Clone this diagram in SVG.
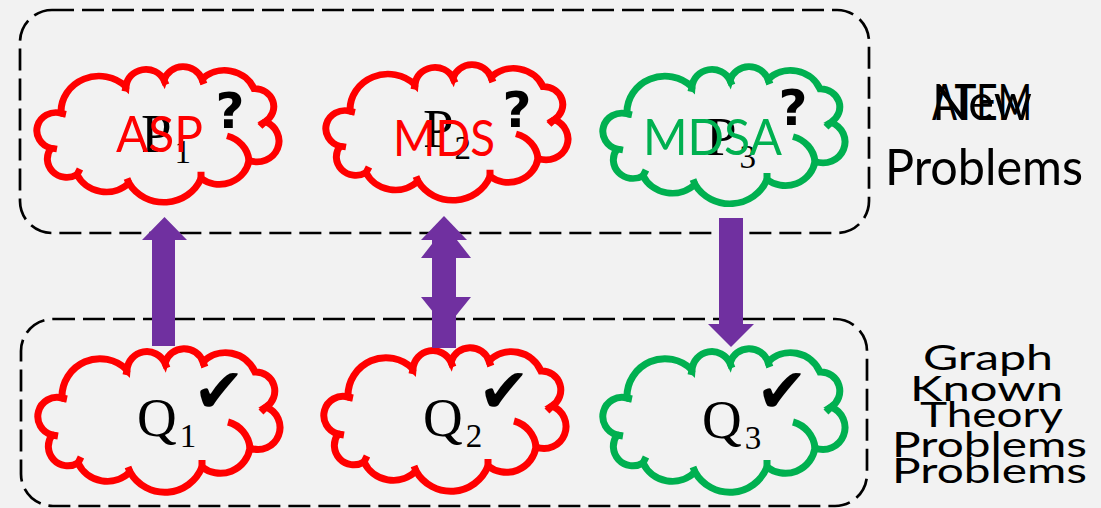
<svg xmlns="http://www.w3.org/2000/svg" xmlns:xlink="http://www.w3.org/1999/xlink" width="1101" height="508" viewBox="0 0 1101 508">
  <style>
    .bg { fill: #F2F2F2; }
    .box { fill: none; stroke: #000; stroke-width: 2.7; stroke-dasharray: 22 8; }
    .red { fill: #F2F2F2; stroke: #FF0000; stroke-width: 7; }
    .green { fill: #F2F2F2; stroke: #00B050; stroke-width: 7; }
    .inner { fill: none; stroke-width: 7; }
    .math { font-family: "Liberation Serif", "Times New Roman", serif; fill: #000; font-size: 55px; }
    .sub { font-size: 33px; }
    .lbl { font-family: Lato, "Open Sans", sans-serif; font-size: 50px; }
    .q { font-family: "DejaVu Sans", sans-serif; font-weight: bold; font-size: 50px; fill: #000; text-anchor: middle; }
    .chk { font-family: "DejaVu Sans", sans-serif; font-size: 62px; fill: #000; text-anchor: middle; }
    .side { font-family: Lato, "Open Sans", sans-serif; fill: #000; }
    .arrow { fill: #7030A0; }
  </style>
  <defs>
    <path id="cloud" d="M24,51 A38,38 0 0 1 89,23 A20,20 0 0 1 127,16 A20,20 0 0 1 165,15 A32,32 0 0 1 217,25 A19,19 0 0 1 228,60 A22,22 0 0 1 212,101 A30,30 0 0 1 164,120 A40,40 0 0 1 92,125 A32.5,32.5 0 0 1 40,116 A19.5,19.5 0 0 1 14,88 A19,19 0 0 1 24,51 Z"/>
    <path id="cloudInner" d="M190,75 A30,30 0 0 1 212,101 M228,60 L223,65 M24,51 L29,52 M89,23 L88,28 M127,16 L129,21 M165,15 L167,20 M164,120 L164,113 M92,125 L90,120 M40,116 L43,110 M14,88 L20,89"/>
  </defs>
  <rect class="bg" x="0" y="0" width="1101" height="508"/>

  <g id="containers">
    <rect id="new-problems-box" class="box" x="20" y="10" width="849" height="223" rx="32" ry="32"/>
    <rect id="known-problems-box" class="box" x="21" y="319" width="846" height="187" rx="32" ry="32"/>
  </g>

  <g id="node-p1">
    <g transform="translate(37,65) scale(1,0.945)">
      <use xlink:href="#cloud" class="red"/>
      <use xlink:href="#cloudInner" class="inner" stroke="#FF0000"/>
    </g>
    <text class="math" x="141" y="152">P<tspan class="sub" dx="3" dy="11">1</tspan></text>
    <text class="lbl" x="116" y="152" fill="#FF0000" textLength="87" lengthAdjust="spacingAndGlyphs">ASP</text>
    <text class="q" x="230" y="128">?</text>
  </g>

  <g id="node-p2">
    <g transform="translate(326,63) scale(1,0.945)">
      <use xlink:href="#cloud" class="red"/>
      <use xlink:href="#cloudInner" class="inner" stroke="#FF0000"/>
    </g>
    <text class="math" x="423" y="147">P<tspan class="sub" dx="1" dy="12">2</tspan></text>
    <text class="lbl" x="393" y="156" fill="#FF0000" textLength="102" lengthAdjust="spacingAndGlyphs">MDS</text>
    <text class="q" x="517" y="127">?</text>
  </g>

  <g id="node-p3">
    <g transform="translate(603,65) scale(1,0.955)">
      <use xlink:href="#cloud" class="green"/>
      <use xlink:href="#cloudInner" class="inner" stroke="#00B050"/>
    </g>
    <text class="math" x="706" y="155">P<tspan class="sub" dx="3" dy="13">3</tspan></text>
    <text class="lbl" x="643" y="155" fill="#00B050" textLength="139" lengthAdjust="spacingAndGlyphs">MDSA</text>
    <text class="q" x="793" y="125">?</text>
  </g>

  <g id="node-q1">
    <g transform="translate(38,347)">
      <use xlink:href="#cloud" class="red"/>
      <use xlink:href="#cloudInner" class="inner" stroke="#FF0000"/>
    </g>
    <text class="math" x="137" y="436">Q<tspan class="sub" dx="3" dy="11">1</tspan></text>
    <text class="chk" x="219" y="412">✔</text>
  </g>

  <g id="node-q2">
    <g transform="translate(324,346)">
      <use xlink:href="#cloud" class="red"/>
      <use xlink:href="#cloudInner" class="inner" stroke="#FF0000"/>
    </g>
    <text class="math" x="423" y="436">Q<tspan class="sub" dx="3" dy="11">2</tspan></text>
    <text class="chk" x="504" y="412">✔</text>
  </g>

  <g id="node-q3">
    <g transform="translate(603,347)">
      <use xlink:href="#cloud" class="green"/>
      <use xlink:href="#cloudInner" class="inner" stroke="#00B050"/>
    </g>
    <text class="math" x="702" y="438">Q<tspan class="sub" dx="3" dy="11">3</tspan></text>
    <text class="chk" x="782" y="412">✔</text>
  </g>

  <g id="connectors">
    <polygon class="arrow" points="152,346 175,346 175,240 187,240 164.5,217 142,240 152,240"/>
    <g id="double-arrow">
      <polygon class="arrow" points="421,297 471,297 446,328"/>
      <polygon class="arrow" points="421,258 446,226 471,258"/>
      <rect class="arrow" x="432" y="238" width="24" height="110"/>
      <polygon class="arrow" points="421,240 444,216 467,240"/>
    </g>
    <polygon class="arrow" points="719,218 743,218 743,324 754,324 731,347 708,324 719,324"/>
  </g>

  <g id="label-new-problems">
    <text class="side" x="982" y="120" font-size="50" text-anchor="middle" textLength="100" lengthAdjust="spacingAndGlyphs">ATEM</text>
    <text class="side" x="982" y="120" font-size="50" text-anchor="middle" textLength="100" lengthAdjust="spacingAndGlyphs">New</text>
    <text class="side" x="885" y="185" font-size="50" textLength="198" lengthAdjust="spacingAndGlyphs">Problems</text>
  </g>

  <g id="label-known-problems">
    <text class="side" x="923" y="370" font-size="35" textLength="130" lengthAdjust="spacingAndGlyphs">Graph</text>
    <text class="side" x="910" y="401" font-size="35" textLength="153" lengthAdjust="spacingAndGlyphs">Known</text>
    <text class="side" x="920" y="427" font-size="35" textLength="143" lengthAdjust="spacingAndGlyphs">Theory</text>
    <text class="side" x="892" y="457" font-size="35" textLength="195" lengthAdjust="spacingAndGlyphs">Problems</text>
    <text class="side" x="892" y="483" font-size="35" textLength="195" lengthAdjust="spacingAndGlyphs">Problems</text>
  </g>
</svg>
